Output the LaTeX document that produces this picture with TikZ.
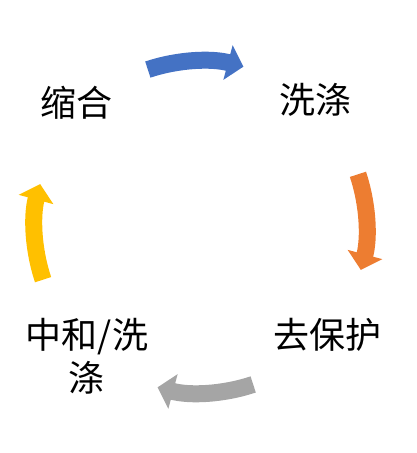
\documentclass[tikz,border=0pt]{standalone}
\usepackage{fontspec}
\setmainfont{Noto Sans CJK SC}
\usetikzlibrary{arrows.meta}
\definecolor{stepblue}{HTML}{4472C4}
\definecolor{steporange}{HTML}{ED7D31}
\definecolor{stepgray}{HTML}{A5A5A5}
\definecolor{stepyellow}{HTML}{FFC000}
\begin{document}
\begin{tikzpicture}[x=1pt, y=1pt,
    every node/.style={font=\fontsize{36}{43}\selectfont, align=center, inner sep=0pt},
    cycarrow/.style={line width=17pt, -{Triangle[length=16pt,width=35pt]}}]
    \useasboundingbox (0,0) rectangle (416,453);
    \coordinate (c) at (200.5,226);
    \node (suohe) at (77,350) {缩合};
    \node (xidi) at (315,353) {洗涤};
    \node (qubaohu) at (327,118) {去保护};
    \node (zhonghe) at (87,97) {中和/洗\\涤};
    % one arc arrow per step, clockwise
    \foreach \a/\col [evaluate=\a as \s using \a+18.5, evaluate=\a as \e using \a-15] in
        {90/stepblue, 0/steporange, -90/stepgray, 180/stepyellow}
        \draw[cycarrow, \col] (c) ++(\s:166pt) arc[start angle=\s, end angle=\e, radius=166pt];
\end{tikzpicture}
\end{document}
